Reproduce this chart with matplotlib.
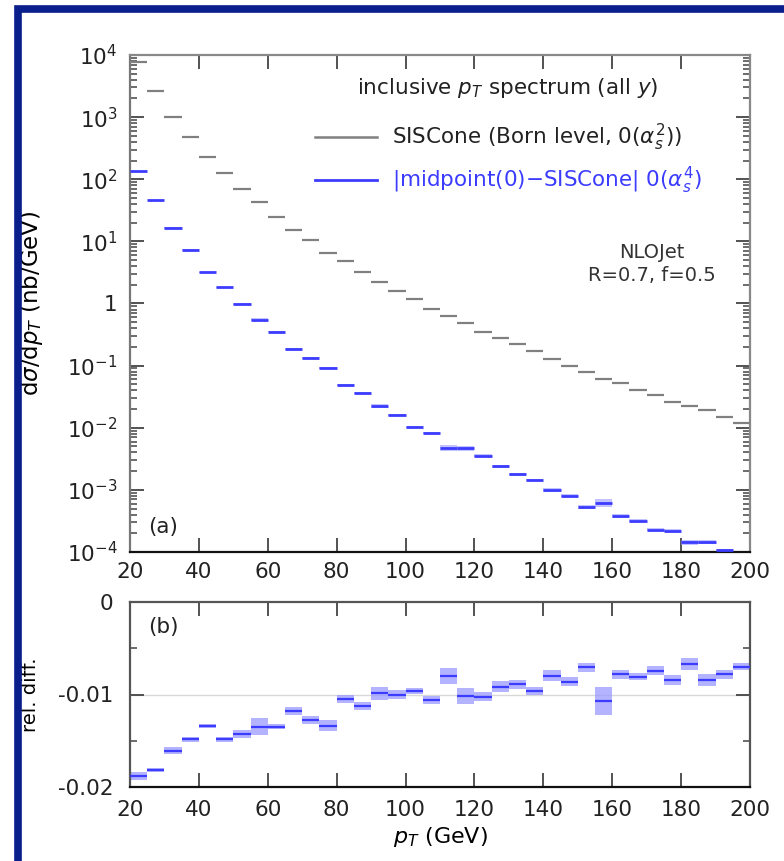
import numpy as np
import matplotlib
matplotlib.use("Agg")
import matplotlib.pyplot as plt
from matplotlib.lines import Line2D
from matplotlib.patches import Rectangle
from matplotlib.ticker import FixedLocator, FuncFormatter, NullFormatter

plt.rcParams['font.family'] = ['DejaVu Sans']
plt.rcParams['mathtext.fontset'] = 'dejavusans'

# ---------------- data ----------------
bin_lo = np.arange(20, 200, 5)   # 36 bins, 5 GeV wide
bin_w = 5

born = [7700, 2600, 1000, 480, 225, 125, 69, 43, 25, 15.5,
        10.4, 6.6, 4.8, 3.2, 2.26, 1.6, 1.16, 0.82, 0.64, 0.49,
        0.35, 0.28, 0.22, 0.17, 0.13, 0.10, 0.080, 0.062, 0.052, 0.041,
        0.034, 0.026, 0.022, 0.019, 0.015, 0.012]

absdiff = [135, 46, 16.5, 7.3, 3.2, 1.83, 0.99, 0.55, 0.35, 0.186,
           0.133, 0.091, 0.049, 0.036, 0.0226, 0.0160, 0.0104, 0.0083, 0.0047, 0.0047,
           0.00355, 0.0024, 0.00178, 0.00144, 0.00099, 0.00081, 0.00053, 0.00062, 0.00038, 0.00032,
           0.00023, 0.00022, 0.000145, 0.000145, 0.000107, 0.000095]

reldiff = [-0.01878, -0.01816, -0.01607, -0.01485, -0.01337, -0.01485, -0.01427, -0.01348, -0.01348, -0.01178,
           -0.01276, -0.01337, -0.01049, -0.01124, -0.00987, -0.01000, -0.00962, -0.01060, -0.00797, -0.01016,
           -0.01023, -0.00915, -0.00890, -0.00962, -0.00797, -0.00861, -0.00706, -0.01067, -0.00782, -0.00807,
           -0.00742, -0.00843, -0.00670, -0.00843, -0.00782, -0.00699]

relerr = [0.00045, 0.0002, 0.0004, 0.0003, 0.0002, 0.0003, 0.0004, 0.0009, 0.00025, 0.0004,
          0.0004, 0.0006, 0.0004, 0.0004, 0.0007, 0.0005, 0.0003, 0.0004, 0.00085, 0.0009,
          0.0005, 0.0006, 0.0005, 0.0004, 0.0006, 0.0005, 0.0005, 0.0015, 0.0005, 0.0004,
          0.0005, 0.0005, 0.0006, 0.0006, 0.0005, 0.0004]

xticks = [20, 40, 60, 80, 100, 120, 140, 160, 180, 200]
log_decades = [-4, -3, -2, -1, 0, 1, 2, 3, 4]

# ---------------- style ----------------
GRAY = '#808080'
BLUE = '#3c3cff'
BAND = '#9a9aff'
FS_TICK = 15.5
FS_TXT = 15.5

W, H = 784, 861
fig = plt.figure(figsize=(W / 100, H / 100), dpi=100)

def frac(x0, y0, x1, y1):
    return [x0 / W, 1 - y1 / H, (x1 - x0) / W, (y1 - y0) / H]

ax1 = fig.add_axes(frac(130, 55, 750, 552))
ax2 = fig.add_axes(frac(130, 602, 750, 787))

lo = np.array(bin_lo, dtype=float)
hi = lo + bin_w
born = np.array(born)
absdiff = np.array(absdiff)
reldiff = np.array(reldiff)
relerr = np.array(relerr)

# top panel
ax1.hlines(born, lo, hi, colors=GRAY, lw=1.6, zorder=3)
band_top = absdiff * relerr / np.abs(reldiff)
ax1.bar(lo, 2 * band_top, bottom=absdiff - band_top, width=bin_w, align='edge',
        color=BAND, alpha=0.6, lw=0, zorder=2)
ax1.hlines(absdiff, lo, hi, colors=BLUE, lw=2.0, zorder=3)
ax1.set_yscale('log')
ax1.set_xlim(20, 200)
ax1.set_ylim(1e-4, 1e4)

def logfmt(v, pos):
    e = int(round(np.log10(v)))
    if e == 0:
        return '1'
    return r'$10^{%d}$' % e

major_y = [10.0 ** e for e in log_decades]
minor_y = [m * 10.0 ** e for e in log_decades[:-1] for m in range(2, 10)]
ax1.yaxis.set_major_locator(FixedLocator(major_y))
ax1.yaxis.set_major_formatter(FuncFormatter(logfmt))
ax1.yaxis.set_minor_locator(FixedLocator(minor_y))
ax1.yaxis.set_minor_formatter(NullFormatter())
ax1.xaxis.set_major_locator(FixedLocator(xticks))

# bottom panel
ax2.axhline(-0.01, color='#d8d8d8', lw=1.0, zorder=1)
ax2.bar(lo, 2 * relerr, bottom=reldiff - relerr, width=bin_w, align='edge',
        color=BAND, alpha=0.75, lw=0, zorder=2)
ax2.hlines(reldiff, lo, hi, colors=BLUE, lw=1.6, zorder=3)
ax2.set_xlim(20, 200)
ax2.set_ylim(-0.02, 0)
ax2.yaxis.set_major_locator(FixedLocator([-0.02, -0.01, 0]))
ax2.yaxis.set_major_formatter(FuncFormatter(lambda v, p: '0' if abs(v) < 1e-9 else '%.2f' % v))
ax2.yaxis.set_minor_locator(FixedLocator([-0.015, -0.005]))
ax2.xaxis.set_major_locator(FixedLocator(xticks))

for ax in (ax1, ax2):
    ax.tick_params(which='major', direction='in', length=10, width=1.3, top=True, right=True,
                   labelsize=FS_TICK, pad=9, color='#444444', labelcolor='#222222')
    ax.tick_params(which='minor', direction='in', length=5, width=1.1, top=True, right=True,
                   color='#444444')
    ax.tick_params(axis='x', which='minor', top=False, bottom=False)
    for s in ax.spines.values():
        s.set_linewidth(1.6)
        s.set_color('#555555')
    ax.spines['bottom'].set_color('#111111')
ax2.tick_params(axis='y', which='major', pad=12)
ax1.tick_params(axis='x', which='major', pad=7)

ax1.spines['top'].set_color('#888888')
ax1.spines['right'].set_color('#888888')
ax1.spines['left'].set_color('#777777')

ax1.set_ylabel(r'd$\sigma$/d$p_T$ (nb/GeV)', fontsize=16.5)
ax2.set_ylabel('rel. diff.', fontsize=14)
ax2.set_xlabel(r'$p_T$ (GeV)', fontsize=16, labelpad=4)
ax1.yaxis.set_label_coords(-0.137, 0.5)
ax2.yaxis.set_label_coords(-0.145, 0.5)

# texts
ax1.text(0.61, 0.934, r'inclusive $p_T$ spectrum (all $y$)', transform=ax1.transAxes,
         ha='center', va='center', fontsize=FS_TXT, color='#222222')
ax1.text(0.842, 0.603, 'NLOJet', transform=ax1.transAxes,
         ha='center', va='center', fontsize=14, color='#333333')
ax1.text(0.842, 0.557, 'R=0.7, f=0.5', transform=ax1.transAxes,
         ha='center', va='center', fontsize=14, color='#333333')
ax1.text(0.03, 0.05, '(a)', transform=ax1.transAxes, ha='left', va='center',
         fontsize=FS_TXT, color='#222222')
ax2.text(0.03, 0.865, '(b)', transform=ax2.transAxes, ha='left', va='center',
         fontsize=FS_TXT, color='#222222')

handles = [Line2D([], [], color=GRAY, lw=1.8), Line2D([], [], color=BLUE, lw=2.0)]
labels = [r'SISCone (Born level, 0($\alpha_s^2$))', r'|midpoint(0)$-$SISCone| 0($\alpha_s^4$)']
leg = ax1.legend(handles, labels, loc='upper left', bbox_to_anchor=(0.298, 0.865),
                 frameon=False, fontsize=FS_TXT, handlelength=2.9, handletextpad=0.7,
                 labelspacing=0.55, borderpad=0, borderaxespad=0)
leg.get_texts()[0].set_color('#222222')
leg.get_texts()[1].set_color(BLUE)

# blue frame
fig.patches.append(Rectangle((18 / W, -0.05), 1.2, 1 - 9 / H + 0.05, transform=fig.transFigure,
                             fill=False, edgecolor='#0a1e8c', lw=5.5, zorder=10))

fig.savefig('out.png', dpi=100)
